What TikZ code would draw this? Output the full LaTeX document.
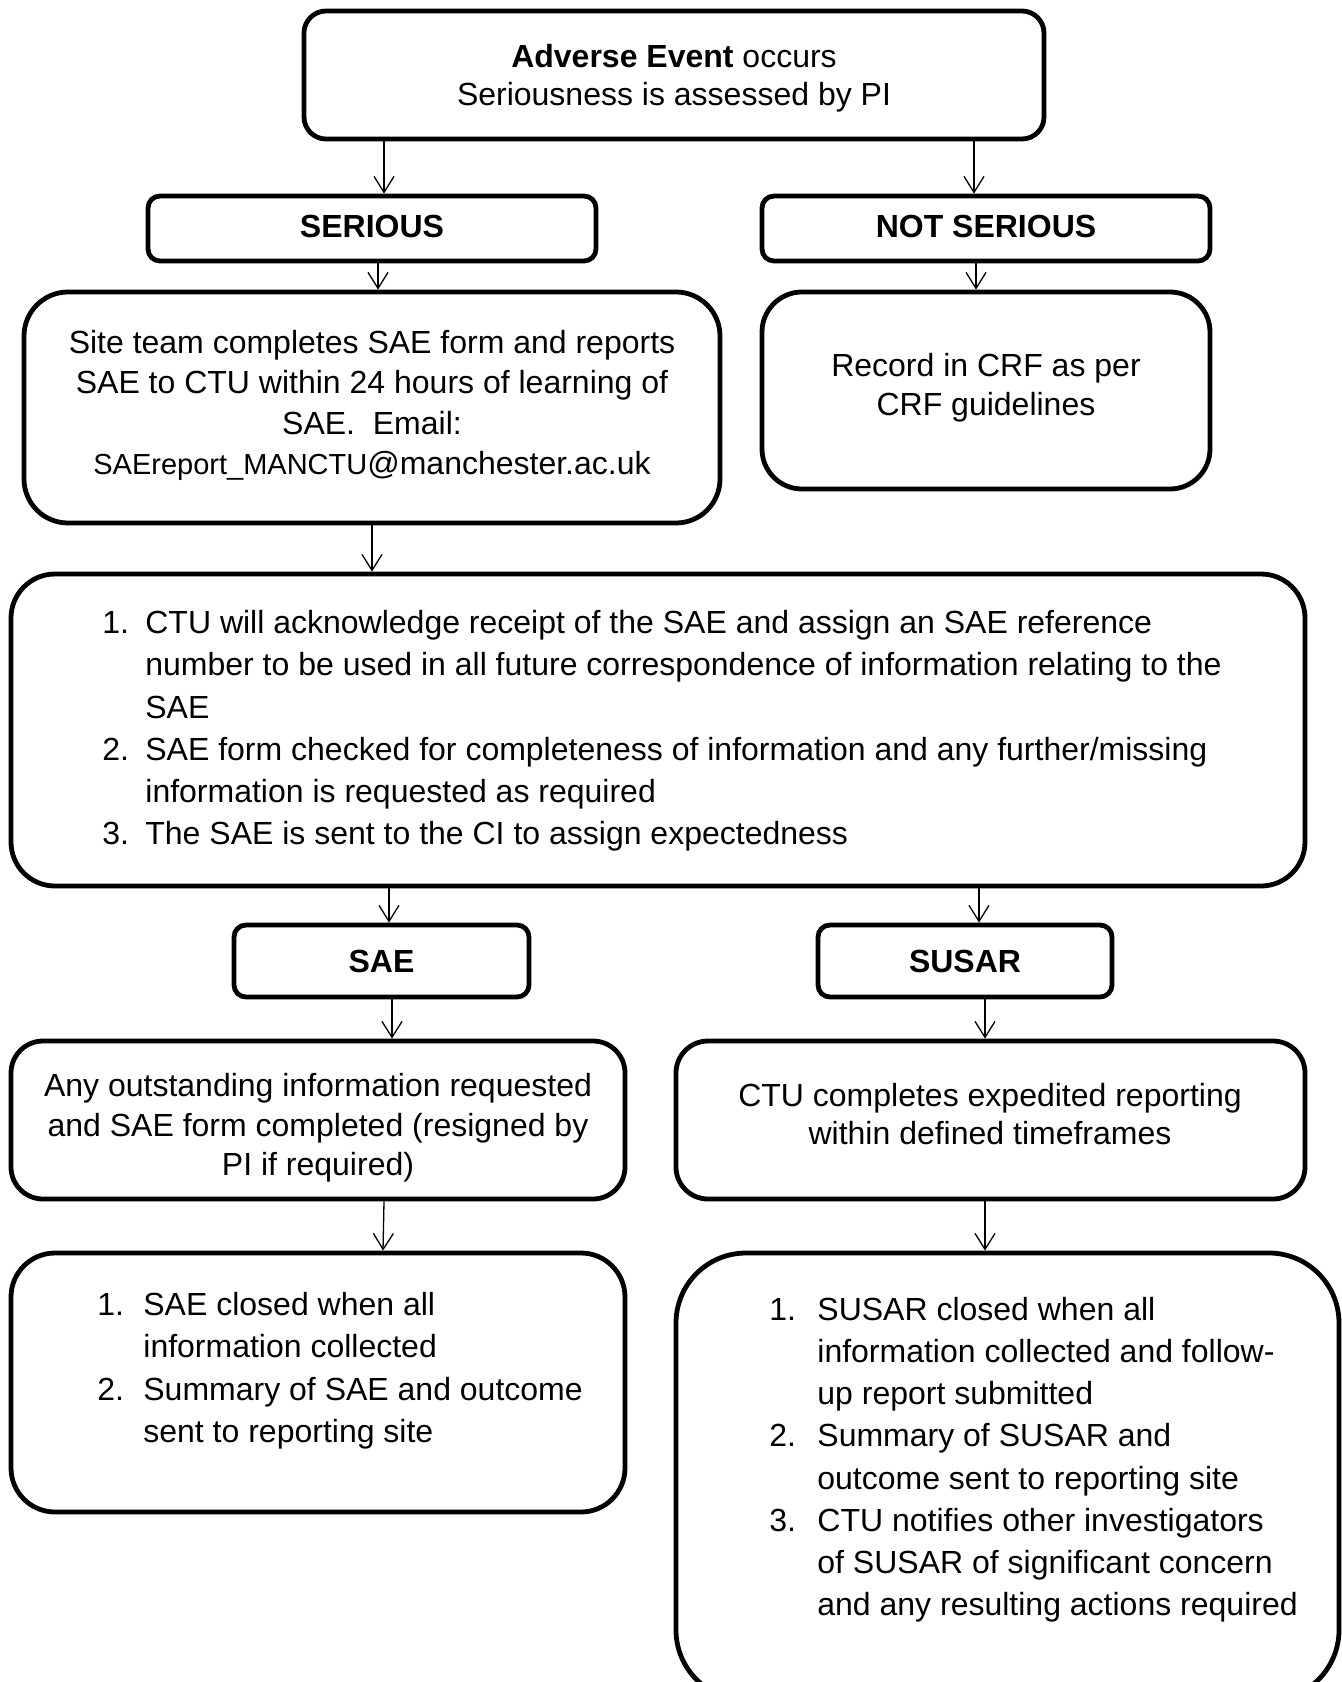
\documentclass[tikz,border=0pt]{standalone}
\usepackage{fontspec}
\setmainfont{Liberation Sans}
\usetikzlibrary{arrows.meta}
\begin{document}
\begin{tikzpicture}[x=0.5pt,y=-0.5pt,
  rbox/.style={draw, line width=2.4pt, rounded corners=#1, inner sep=0pt, align=center,
    font=\bfseries\fontsize{16pt}{20pt}\selectfont},
  rbox/.default=10pt,
  arr/.style={-{Straight Barb[length=8pt,width=10pt]}, line width=0.65pt},
  txt/.style={inner sep=0pt, align=center, anchor=north, font=\fontsize{16pt}{20pt}\selectfont},
  lst/.style={inner sep=0pt, align=left, anchor=north west, font=\fontsize{16pt}{21pt}\selectfont}]
\useasboundingbox (0,0) rectangle (1342,1682);

% boxes
\node[rbox=11pt, minimum width=370pt, minimum height=64pt] (top) at (674,75) {};
\node[rbox=6pt, minimum width=224pt, minimum height=32.5pt] (ser) at (372,228.5) {\raisebox{2pt}{SERIOUS}};
\node[rbox=6pt, minimum width=224pt, minimum height=32.5pt] (nots) at (986,228.5) {\raisebox{2pt}{NOT SERIOUS}};
\node[rbox=22pt, minimum width=348pt, minimum height=115.5pt] (site) at (372,407.5) {};
\node[rbox=20pt, minimum width=224pt, minimum height=98.5pt] (crf) at (986,390.5) {};
\node[rbox=22pt, minimum width=647pt, minimum height=156pt] (big) at (658,730) {};
\node[rbox=6pt, minimum width=147.5pt, minimum height=36pt] (sae) at (381.5,961) {SAE};
\node[rbox=6pt, minimum width=147pt, minimum height=36pt] (susar) at (965,961) {SUSAR};
\node[rbox=16pt, minimum width=307pt, minimum height=79pt] (any) at (318,1120) {};
\node[rbox=16pt, minimum width=314.5pt, minimum height=79pt] (ctu) at (990.5,1120) {};
\node[rbox=22pt, minimum width=307pt, minimum height=129.5pt] (saecl) at (318,1382.5) {};
\node[rbox=35pt, minimum width=331.5pt, minimum height=223.5pt] (suscl) at (1007.5,1476.5) {};

% texts
\node[txt, font=\fontsize{16pt}{18.75pt}\selectfont] (toptxt) at (674,44)
  {\textbf{Adverse Event} occurs\\Seriousness is assessed by PI};
\node[txt, font=\fontsize{16pt}{20.2pt}\selectfont] (sitetxt) at (372,330)
  {Site team completes SAE form and reports\\SAE to CTU within 24 hours of learning of\\SAE.\ \ Email:\\{\fontsize{14.5pt}{20pt}\selectfont SAEreport\_MANCTU}@manchester.ac.uk};
\node[txt, font=\fontsize{16pt}{19.5pt}\selectfont] (crftxt) at (986,353)
  {Record in CRF as per\\CRF guidelines};
\node[lst, font=\fontsize{16pt}{21.1pt}\selectfont] (bigtxt) at (102,610)
  {\makebox[21.5pt][l]{1.}CTU will acknowledge receipt of the SAE and assign an SAE reference\\
   \hspace*{21.5pt}number to be used in all future correspondence of information relating to the\\
   \hspace*{21.5pt}SAE\\
   \makebox[21.5pt][l]{2.}SAE form checked for completeness of information and any further/missing\\
   \hspace*{21.5pt}information is requested as required\\
   \makebox[21.5pt][l]{3.}The SAE is sent to the CI to assign expectedness};
\node[txt, font=\fontsize{16pt}{19.75pt}\selectfont] (anytxt) at (318,1073)
  {Any outstanding information requested\\and SAE form completed (resigned by\\PI if required)};
\node[txt, font=\fontsize{16pt}{19pt}\selectfont] (ctutxt) at (990,1083)
  {CTU completes expedited reporting\\within defined timeframes};
\node[lst, font=\fontsize{16pt}{21.15pt}\selectfont] (saecltxt) at (97,1292)
  {\makebox[23pt][l]{1.}SAE closed when all\\
   \hspace*{23pt}information collected\\
   \makebox[23pt][l]{2.}Summary of SAE and outcome\\
   \hspace*{23pt}sent to reporting site};
\node[lst, font=\fontsize{16pt}{21.05pt}\selectfont] (suscltxt) at (769,1297)
  {\makebox[24pt][l]{1.}SUSAR closed when all\\
   \hspace*{24pt}information collected and follow-\\
   \hspace*{24pt}up report submitted\\
   \makebox[24pt][l]{2.}Summary of SUSAR and\\
   \hspace*{24pt}outcome sent to reporting site\\
   \makebox[24pt][l]{3.}CTU notifies other investigators\\
   \hspace*{24pt}of SUSAR of significant concern\\
   \hspace*{24pt}and any resulting actions required};

% connectors
\draw[arr] ([xshift=-145pt]top.south) -- ([xshift=6pt]ser.north);
\draw[arr] ([xshift=150pt]top.south) -- ([xshift=-6pt]nots.north);
\draw[arr] ([xshift=3pt]ser.south) -- ([xshift=3pt]site.north);
\draw[arr] ([xshift=-5pt]nots.south) -- ([xshift=-5pt]crf.north);
\draw[arr] (site.south) -- ([xshift=-143pt]big.north);
\draw[arr] ([xshift=-134.5pt]big.south) -- ([xshift=3.75pt]sae.north);
\draw[arr] ([xshift=160.5pt]big.south) -- ([xshift=7pt]susar.north);
\draw[arr] ([xshift=5.25pt]sae.south) -- ([xshift=37pt]any.north);
\draw[arr] ([xshift=10pt]susar.south) -- ([xshift=-2.75pt]ctu.north);
\draw[arr] ([xshift=33pt]any.south) -- ([xshift=32.5pt]saecl.north);
\draw[arr] ([xshift=-2.75pt]ctu.south) -- ([xshift=-11.25pt]suscl.north);
\end{tikzpicture}
\end{document}
